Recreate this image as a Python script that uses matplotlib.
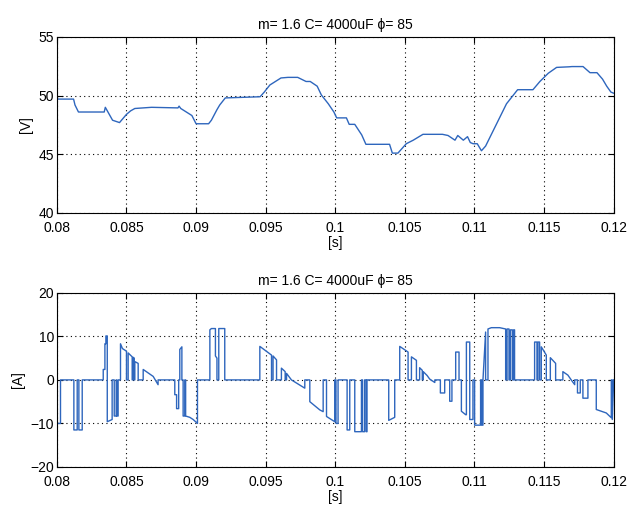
import matplotlib.pyplot as plt

plt.rcParams['font.family'] = ['Liberation Sans', 'DejaVu Sans']
plt.rcParams['font.size'] = 10

title = "m= 1.6 C= 4000uF \u03d5= 85"

# capacitor voltage
t_v = [0.0800, 0.08005, 0.08050, 0.08120, 0.08130, 0.08155, 0.08340, 0.08348, 0.08400,
       0.08450, 0.08500, 0.08530, 0.08560, 0.08680, 0.08870, 0.08878, 0.08890, 0.08930,
       0.08970, 0.09000, 0.09090, 0.09110, 0.09150, 0.09170, 0.09210, 0.09460, 0.09490,
       0.09530, 0.09570, 0.09610, 0.09660, 0.09730, 0.09790, 0.09820, 0.09870, 0.09900,
       0.09950, 0.09990, 0.10010, 0.10080, 0.10100, 0.10140, 0.10190, 0.10220, 0.10390,
       0.10410, 0.10450, 0.10510, 0.10560, 0.10630, 0.10770, 0.10810, 0.10860, 0.10880,
       0.10920, 0.10950, 0.10970, 0.10990, 0.11020, 0.11050, 0.11080, 0.11130, 0.11180,
       0.11230, 0.11280, 0.11310, 0.11420, 0.11470, 0.11530, 0.11590, 0.11680, 0.11700,
       0.11780, 0.11830, 0.11880, 0.11920, 0.11950, 0.11980, 0.12000]
v = [50.2, 49.7, 49.7, 49.7, 49.2, 48.6, 48.6, 49.0, 47.9,
     47.7, 48.4, 48.7, 48.9, 49.0, 48.95, 49.1, 48.9, 48.6,
     48.3, 47.6, 47.6, 47.9, 48.8, 49.2, 49.8, 49.9, 50.3,
     50.9, 51.2, 51.5, 51.55, 51.55, 51.2, 51.2, 50.8, 50.05,
     49.3, 48.6, 48.1, 48.1, 47.55, 47.55, 46.65, 45.85, 45.85,
     45.1, 45.1, 45.9, 46.2, 46.7, 46.7, 46.6, 46.2, 46.6,
     46.2, 46.5, 46.0, 45.9, 45.9, 45.3, 45.7, 46.9, 48.1,
     49.3, 50.05, 50.5, 50.5, 51.2, 51.9, 52.4, 52.45, 52.47,
     52.47, 51.95, 51.95, 51.4, 50.8, 50.3, 50.2]

# inverter current
t_i = [0.08000, 0.08026, 0.08026, 0.08122, 0.08122, 0.08146, 0.08146, 0.08158, 0.08158, 0.08182, 0.08182,
       0.08333, 0.08333, 0.08345, 0.08345, 0.08352, 0.08352, 0.08362, 0.08362, 0.08397, 0.08397,
       0.08412, 0.08412, 0.08426, 0.08426, 0.08430, 0.08430, 0.08440, 0.08440,
       0.08457, 0.08457, 0.08471, 0.08500, 0.08500, 0.08512, 0.08512, 0.08541, 0.08541,
       0.08548, 0.08548, 0.08556, 0.08556, 0.08560, 0.08560, 0.08584, 0.08584,
       0.08620, 0.08620, 0.08656, 0.08692, 0.08727, 0.08727,
       0.08847, 0.08847, 0.08860, 0.08860, 0.08875, 0.08875, 0.08883, 0.08883, 0.08898, 0.08898,
       0.08907, 0.08907, 0.08919, 0.08919, 0.08925, 0.08925, 0.08955, 0.08979, 0.09010, 0.09010,
       0.09099, 0.09099, 0.09110, 0.09139, 0.09139, 0.09150, 0.09150, 0.09163, 0.09163, 0.09206, 0.09206,
       0.09458, 0.09458, 0.09542, 0.09542, 0.09553, 0.09553, 0.09578, 0.09578,
       0.09613, 0.09613, 0.09640, 0.09640, 0.09650, 0.09650, 0.09685, 0.09781, 0.09781,
       0.09817, 0.09817, 0.09889, 0.09913, 0.09913, 0.09937, 0.09937, 0.09996, 0.09996,
       0.10005, 0.10005, 0.10020, 0.10020, 0.10085, 0.10085, 0.10104, 0.10104,
       0.10140, 0.10140, 0.10188, 0.10188, 0.10196, 0.10196, 0.10211, 0.10211, 0.10222, 0.10222, 0.10228, 0.10228,
       0.10384, 0.10384, 0.10415, 0.10427, 0.10427,
       0.10463, 0.10463, 0.10523, 0.10523, 0.10547, 0.10547, 0.10583, 0.10583,
       0.10606, 0.10606, 0.10625, 0.10625, 0.10632, 0.10632, 0.10660, 0.10678, 0.10715, 0.10715,
       0.10755, 0.10755, 0.10786, 0.10786, 0.10822, 0.10822, 0.10838, 0.10838,
       0.10865, 0.10865, 0.10889, 0.10889, 0.10906, 0.10906, 0.10937, 0.10942, 0.10942, 0.10966, 0.10966,
       0.10989, 0.10989, 0.11001, 0.11001, 0.11044, 0.11044, 0.11052, 0.11052, 0.11061, 0.11061,
       0.11080, 0.11080, 0.11097, 0.11097, 0.11121, 0.11181, 0.11224, 0.11224, 0.11234, 0.11234,
       0.11248, 0.11248, 0.11258, 0.11258, 0.11272, 0.11272, 0.11281, 0.11281, 0.11288, 0.11288, 0.11300, 0.11300,
       0.11432, 0.11432, 0.11449, 0.11449, 0.11456, 0.11456, 0.11468, 0.11468,
       0.11480, 0.11480, 0.11516, 0.11516, 0.11545, 0.11545, 0.11583, 0.11583,
       0.11635, 0.11635, 0.11671, 0.11695, 0.11720, 0.11720, 0.11740, 0.11740, 0.11760, 0.11760,
       0.11779, 0.11779, 0.11815, 0.11815, 0.11875, 0.11875, 0.11947, 0.11983, 0.11983, 0.11990, 0.11990, 0.12000]
i_a = [-10.0, -10.0, 0, 0, -11.5, -11.5, 0, 0, -11.5, -11.5, 0,
       0, 2.4, 2.4, 8.3, 8.3, 10.1, 10.1, -9.6, -9.1, 0,
       0, -8.3, -8.3, 0, 0, -8.3, -8.3, 0,
       0, 8.3, 7.2, 6.6, 0, 0, 6.2, 5.3, 0,
       0, 5.2, 5.0, 0, 0, 4.2, 3.8, 0,
       0, 2.4, 1.6, 0.8, -1.1, 0,
       0, -3.4, -3.4, -6.6, -6.6, 0, 0, 7.0, 7.6, 0,
       0, -8.3, -8.3, 0, 0, -8.3, -8.6, -9.1, -10.0, 0,
       0, 11.5, 11.8, 11.8, 5.5, 5.0, 0, 0, 11.8, 11.8, 0,
       0, 7.7, 5.7, 0, 0, 5.5, 4.6, 0,
       0, 2.7, 1.9, 0, 0, 1.5, 0.0, -1.9, 0,
       0, -5.0, -6.9, -7.3, 0, 0, -8.4, -9.6, 0,
       0, -10.0, -10.0, 0, 0, -11.5, -11.5, 0,
       0, -11.9, -11.9, 0, 0, -11.9, -11.9, 0, 0, -11.9, -11.9, 0,
       0, -9.3, -8.8, -8.6, 0,
       0, 7.7, 6.4, 0, 0, 5.3, 4.5, 0,
       0, 2.8, 2.2, 0, 0, 1.9, 1.0, 0.2, -0.6, 0,
       0, -3.0, -3.0, 0, 0, -4.9, -4.9, 0,
       0, 6.4, 6.4, 0, 0, -7.2, -8.0, -8.0, 8.7, 8.7, -9.1,
       -9.1, 0, 0, -10.4, -10.4, 0, 0, -10.4, -10.4, 0,
       11.0, 0, 0, 11.7, 12.0, 12.0, 11.7, 0, 0, 11.7,
       11.7, 0, 0, 11.5, 11.5, 0, 0, 11.5, 11.5, 0, 0, 0,
       0, 8.7, 8.7, 0, 0, 8.7, 8.7, 0,
       0, 7.6, 5.7, 0, 0, 5.1, 3.8, 0,
       0, 1.9, 1.1, 0.0, -1.1, 0, 0, -3.0, -3.0, 0,
       0, -4.2, -4.2, 0, 0, -6.8, -7.6, -8.7, 0, 0, -9.1, 0]

xticks = [0.08, 0.085, 0.09, 0.095, 0.1, 0.105, 0.11, 0.115, 0.12]
xlabels = ['0.08', '0.085', '0.09', '0.095', '0.1', '0.105', '0.11', '0.115', '0.12']

fig = plt.figure(figsize=(6.32, 5.12), dpi=100)
ax1 = fig.add_axes([0.090, 0.584, 0.881, 0.344])
ax2 = fig.add_axes([0.090, 0.088, 0.881, 0.340])

line_color = '#2e66bd'


def style(ax, yticks, ylabel):
  ax.set_xlim(0.08, 0.12)
  ax.set_xticks(xticks)
  ax.set_xticklabels(xlabels)
  ax.set_yticks(yticks)
  ax.set_ylim(yticks[0], yticks[-1])
  ax.grid(True, linestyle=(0, (1, 3)), color='black', linewidth=0.8)
  ax.tick_params(direction='in', top=True, right=True, length=4)
  ax.tick_params(axis='x', pad=5.5)
  ax.tick_params(axis='y', pad=2)
  for s in ax.spines.values():
    s.set_linewidth(0.8)
  ax.set_xlabel("[s]", labelpad=1)
  ax.set_ylabel(ylabel, labelpad=4)
  ax.set_title(title, fontsize=10, pad=6)


ax1.plot(t_v, v, color=line_color, linewidth=1)
style(ax1, [40, 45, 50, 55], "[V]")

ax2.plot(t_i, i_a, color=line_color, linewidth=1)
style(ax2, [-20, -10, 0, 10, 20], "[A]")

fig.savefig("out.png", dpi=100)
